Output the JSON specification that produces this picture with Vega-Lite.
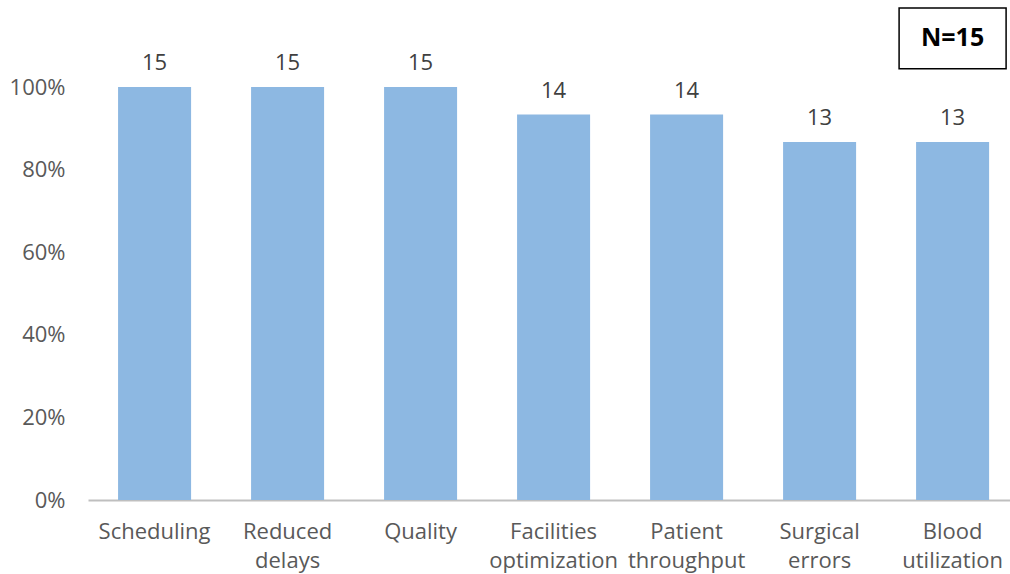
{
  "$schema": "https://vega.github.io/schema/vega-lite/v6.json",
  "width": 922,
  "height": 413,
  "autosize": {"type": "none"},
  "padding": {"left": 88, "top": 87, "right": 0, "bottom": 74},
  "background": "white",
  "config": {"view": {"stroke": null}, "font": "Open Sans"},
  "datasets": {
    "bars": [
      {"category": "Scheduling", "share": 1.0, "count": 15},
      {"category": "Reduced delays", "share": 1.0, "count": 15},
      {"category": "Quality", "share": 1.0, "count": 15},
      {"category": "Facilities optimization", "share": 0.9333, "count": 14},
      {"category": "Patient throughput", "share": 0.9333, "count": 14},
      {"category": "Surgical errors", "share": 0.8667, "count": 13},
      {"category": "Blood utilization", "share": 0.8667, "count": 13}
    ],
    "note": [
      {"category": "Blood utilization", "lo": 1.044, "hi": 1.191, "mid": 1.119, "text": "N=15"}
    ]
  },
  "encoding": {
    "x": {
      "field": "category",
      "type": "nominal",
      "sort": null,
      "scale": {
        "domain": ["Scheduling", "Reduced delays", "Quality", "Facilities optimization", "Patient throughput", "Surgical errors", "Blood utilization"],
        "paddingInner": 0.451,
        "paddingOuter": 0.1916,
        "align": 0.59
      },
      "axis": {
        "title": null,
        "labelAngle": 0,
        "ticks": false,
        "domainColor": "#BFBFBF",
        "domainWidth": 2,
        "labelColor": "#595959",
        "labelFontSize": 22,
        "labelFont": "Open Sans",
        "labelPadding": 21,
        "labelLineHeight": 29,
        "labelExpr": "split(datum.value, ' ')"
      }
    }
  },
  "layer": [
    {
      "data": {"name": "bars"},
      "mark": {"type": "bar", "color": "#8DB8E2"},
      "encoding": {
        "y": {
          "field": "share",
          "type": "quantitative",
          "scale": {"domain": [0, 1]},
          "axis": {
            "title": null,
            "format": ".0%",
            "values": [0, 0.2, 0.4, 0.6, 0.8, 1.0],
            "grid": false,
            "ticks": false,
            "domain": false,
            "labelColor": "#595959",
            "labelFontSize": 22,
            "labelFont": "Open Sans",
            "labelPadding": 23
          }
        }
      }
    },
    {
      "data": {"name": "bars"},
      "mark": {"type": "text", "baseline": "alphabetic", "dy": -17, "fontSize": 22, "color": "#404040", "font": "Open Sans"},
      "encoding": {
        "y": {"field": "share", "type": "quantitative"},
        "text": {"field": "count", "type": "quantitative"}
      }
    },
    {
      "data": {"name": "note"},
      "mark": {"type": "bar", "width": 107, "fill": "white", "stroke": "black", "strokeWidth": 1.5},
      "encoding": {
        "y": {"field": "lo", "type": "quantitative"},
        "y2": {"field": "hi"}
      }
    },
    {
      "data": {"name": "note"},
      "mark": {"type": "text", "fontSize": 25, "fontWeight": "bold", "color": "black", "font": "Open Sans", "baseline": "middle"},
      "encoding": {
        "y": {"field": "mid", "type": "quantitative"},
        "text": {"field": "text"}
      }
    }
  ]
}
